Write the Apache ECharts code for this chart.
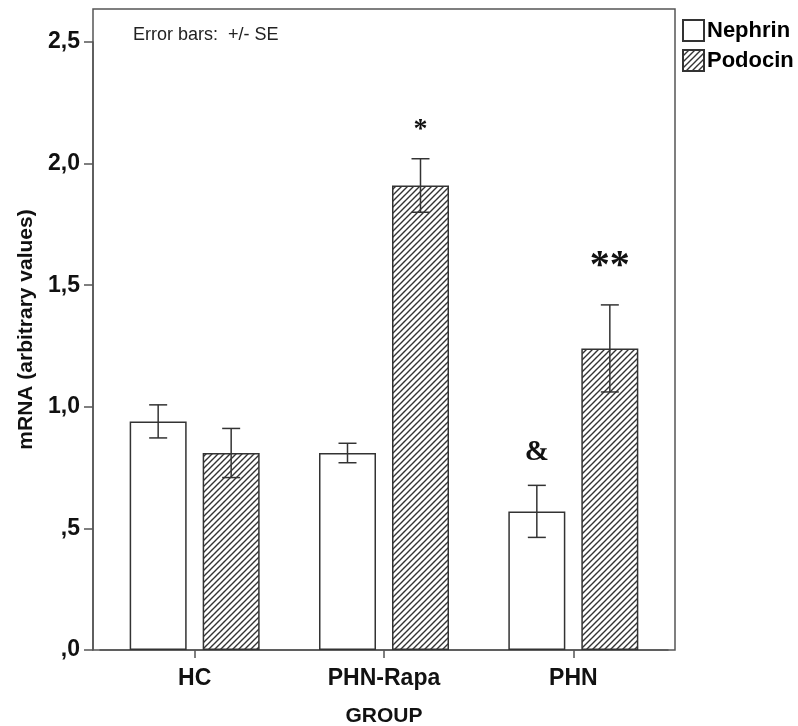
<!DOCTYPE html>
<html>
<head>
<meta charset="utf-8">
<script src="https://cdn.jsdelivr.net/npm/echarts@6/dist/echarts.min.js"></script>
<style>
  html, body { margin: 0; padding: 0; background: #fff; }
  #main { width: 798px; height: 726px; }
</style>
</head>
<body>
<div id="main"></div>
<script>
// groups on the x axis
const categories = ['HC', 'PHN-Rapa', 'PHN'];
// mean mRNA and standard error per group
const nephrin = [0.94, 0.81, 0.57];
const nephrinSE = [0.068, 0.04, 0.107];
const podocin = [0.81, 1.91, 1.24];
const podocinSE = [0.101, 0.11, 0.179];
// y tick labels (SPSS style)
const yTicks = [0, 0.5, 1.0, 1.5, 2.0, 2.5];
const yTickLabels = [',0', ',5', '1,0', '1,5', '2,0', '2,5'];
// significance marks: text, group, series (0 nephrin, 1 podocin), y value
const markText = ['*', '**', '&'];
const markCat = [1, 2, 2];
const markSeries = [1, 1, 0];
const markY = [2.14, 1.575, 0.81];

const FONT = 'Liberation Sans';
const barWidth = 57;
const barGapPx = 16;
const sideOffset = (barWidth + barGapPx) / 2;

// hatch pattern for Podocin
function hatch() {
  const c = document.createElement('canvas');
  const s = 6;
  c.width = s; c.height = s;
  const ctx = c.getContext('2d');
  ctx.fillStyle = '#fff';
  ctx.fillRect(0, 0, s, s);
  ctx.strokeStyle = '#333';
  ctx.lineWidth = 1.4;
  ctx.beginPath();
  ctx.moveTo(-1, s + 1); ctx.lineTo(s + 1, -1);
  ctx.moveTo(-1, 1); ctx.lineTo(1, -1);
  ctx.moveTo(s - 1, s + 1); ctx.lineTo(s + 1, s - 1);
  ctx.stroke();
  return c;
}
const hatchFill = { image: hatch(), repeat: 'repeat' };

let chart = echarts.init(document.getElementById('main'), null, { renderer: 'canvas' });

function errData(vals, se) {
  return vals.map(function (v, i) { return [i, v - se[i], v + se[i]]; });
}

function errRender(side) {
  return function (params, api) {
    const i = api.value(0);
    const lo = api.coord([i, api.value(1)]);
    const hi = api.coord([i, api.value(2)]);
    const x = lo[0] + side * sideOffset;
    const w = 9;
    const st = { stroke: '#333', lineWidth: 1.5 };
    return {
      type: 'group',
      children: [
        { type: 'line', shape: { x1: x, y1: lo[1], x2: x, y2: hi[1] }, style: st },
        { type: 'line', shape: { x1: x - w, y1: lo[1], x2: x + w, y2: lo[1] }, style: st },
        { type: 'line', shape: { x1: x - w, y1: hi[1], x2: x + w, y2: hi[1] }, style: st }
      ]
    };
  };
}

const markData = markText.map(function (t, k) {
  return [markCat[k], markY[k], markSeries[k], k];
});

var option = {
  animation: false,
  backgroundColor: '#fff',
  textStyle: { fontFamily: FONT },
  grid: [
    { left: 100, right: 130, top: 42, bottom: 76, outerBoundsMode: 'none' },
    // frame around plot
    { left: 93, right: 123, top: 9, bottom: 76, outerBoundsMode: 'none', show: true, borderColor: '#555', borderWidth: 1.5, backgroundColor: 'transparent' }
  ],
  legend: {
    orient: 'vertical',
    left: 677,
    top: 14,
    itemWidth: 21,
    itemHeight: 21,
    itemGap: 7,
    icon: 'rect',
    textStyle: { fontFamily: FONT, fontSize: 22, fontWeight: 'bold', color: '#000', lineHeight: 21, padding: [0, 0, 0, -2] },
    data: ['Nephrin', 'Podocin']
  },
  xAxis: [
    {
      type: 'category',
      data: categories,
      gridIndex: 0,
      name: 'GROUP',
      nameLocation: 'middle',
      nameGap: 56,
      nameTextStyle: { fontFamily: FONT, fontSize: 21, fontWeight: 'bold', color: '#111' },
      axisLine: { show: true, lineStyle: { color: '#555', width: 1.5 } },
      axisTick: { show: true, alignWithLabel: true, length: 8, lineStyle: { color: '#555', width: 1.5 } },
      axisLabel: { fontFamily: FONT, fontSize: 23, fontWeight: 'bold', color: '#111', margin: 17 }
    },
    { type: 'value', gridIndex: 1, show: false, min: 0, max: 1 }
  ],
  yAxis: [
    {
      type: 'value',
      gridIndex: 0,
      min: 0,
      max: 2.5,
      interval: 0.5,
      offset: 7,
      axisLine: { show: true, lineStyle: { color: '#555', width: 1.5 } },
      axisTick: { show: true, length: 9, lineStyle: { color: '#555', width: 1.5 } },
      splitLine: { show: false },
      axisLabel: {
        fontFamily: FONT, fontSize: 23, fontWeight: 'bold', color: '#111', margin: 13,
        formatter: function (v) {
          const k = yTicks.indexOf(Math.round(v * 10) / 10);
          return k >= 0 ? yTickLabels[k] : '';
        }
      }
    },
    {
      // carries the axis title, centred on the frame
      type: 'value',
      gridIndex: 1,
      min: 0,
      max: 1,
      name: 'mRNA (arbitrary values)',
      nameLocation: 'middle',
      nameGap: 56,
      nameRotate: 90,
      nameTextStyle: { fontFamily: FONT, fontSize: 21, fontWeight: 'bold', color: '#111' },
      axisLine: { show: false },
      axisTick: { show: false },
      axisLabel: { show: false },
      splitLine: { show: false }
    }
  ],
  series: [
    {
      name: 'Nephrin',
      type: 'bar',
      data: nephrin,
      barWidth: barWidth,
      barGap: (barGapPx / barWidth * 100) + '%',
      itemStyle: { color: '#fff', borderColor: '#333', borderWidth: 1.5 }
    },
    {
      name: 'Podocin',
      type: 'bar',
      data: podocin,
      barWidth: barWidth,
      itemStyle: { color: hatchFill, borderColor: '#333', borderWidth: 1.5 }
    },
    {
      type: 'custom',
      renderItem: errRender(-1),
      data: errData(nephrin, nephrinSE),
      encode: { x: 0, y: [1, 2] },
      z: 5
    },
    {
      type: 'custom',
      renderItem: errRender(1),
      data: errData(podocin, podocinSE),
      encode: { x: 0, y: [1, 2] },
      z: 5
    },
    {
      // significance marks
      type: 'custom',
      data: markData,
      encode: { x: 0, y: 1 },
      z: 6,
      renderItem: function (params, api) {
        const k = api.value(3);
        const p = api.coord([api.value(0), api.value(1)]);
        const side = api.value(2) === 1 ? 1 : -1;
        const sizes = [28, 40, 29];
        return {
          type: 'text',
          style: {
            x: p[0] + side * sideOffset,
            y: p[1],
            text: markText[k],
            fontFamily: 'Liberation Serif',
            fontWeight: 'bold',
            fontSize: sizes[k],
            fill: '#111',
            align: 'center',
            verticalAlign: 'middle'
          }
        };
      }
    }
  ],
  graphic: [
    {
      type: 'text',
      left: 133,
      top: 26,
      style: { text: 'Error bars:  +/- SE', fontFamily: FONT, fontSize: 18, fill: '#222' }
    }
  ]
};

chart.setOption(option);
</script>
</body>
</html>
